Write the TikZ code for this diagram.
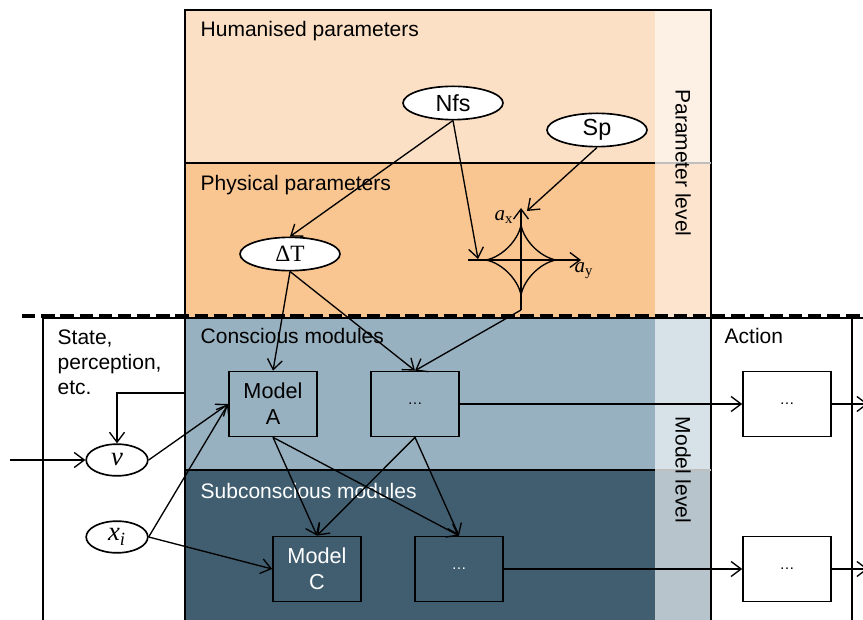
\documentclass[tikz,border=0pt]{standalone}
\usepackage{fontspec}
\setmainfont{Liberation Sans}
\newfontfamily\serifface{Liberation Serif}
\usetikzlibrary{arrows.meta,shapes.geometric}

\definecolor{humcol}{RGB}{252,224,197}
\definecolor{phycol}{RGB}{249,197,145}
\definecolor{humstrip}{RGB}{253,241,230}
\definecolor{phystrip}{RGB}{252,228,206}
\definecolor{concol}{RGB}{152,177,192}
\definecolor{constrip}{RGB}{214,226,232}
\definecolor{subcol}{RGB}{64,94,112}
\definecolor{substrip}{RGB}{183,196,203}

\begin{document}
\begin{tikzpicture}[x=0.6pt,y=-0.6pt,line width=0.8pt,
  font=\fontsize{12.6}{15}\selectfont,
  arr/.style={-{Straight Barb[length=6pt,width=9pt]}},
  oval/.style={draw,line width=1pt,ellipse,fill=white,inner sep=0pt,minimum width=60pt,minimum height=20pt,font=\fontsize{14}{15}\selectfont},
  smalloval/.style={oval,minimum width=37pt,minimum height=19pt},
  modbox/.style={draw,line width=1pt,minimum width=52.8pt,minimum height=39pt,align=center,inner sep=0pt,font=\fontsize{13}{15.5}\selectfont},
  lbl/.style={anchor=base west,inner sep=0pt,align=left}]
	\useasboundingbox (0,0) rectangle (863,620);
	% bands
	\fill [humcol](185,10)rectangle(655,163);
	\fill [phycol](185,163)rectangle(655,318);
	\fill [humstrip](655,10)rectangle(711,163);
	\fill [phystrip](655,163)rectangle(711,318);
	\fill [concol](185,318)rectangle(655,470);
	\fill [constrip](655,318)rectangle(711,470);
	\fill [subcol](185,470)rectangle(655,620);
	\fill [substrip](655,470)rectangle(711,620);
	% frame lines
	\draw (185,318)--(185,10)--(711,10)--(711,620);
	\draw (185,163)--(655,163);
	\draw [gray!50] (655,163)--(711,163);
	\draw (185,470)--(655,470);
	\draw [gray!50] (655,470)--(711,470);
	\draw (185,318)--(185,620);
	\draw (43,620)--(43,318)--(863,318);
	\draw (852,318)--(852,620);
	\draw [line width=2.4pt,dash pattern=on 8pt off 3.5pt] (22,316)--(863,316);
	% labels
	\node [lbl] at (200,37) {Humanised parameters};
	\node [lbl] at (200,191) {Physical parameters};
	\node [lbl] at (200,344) {Conscious modules};
	\node [lbl,text=white] at (200,498) {Subconscious modules};
	\node [lbl,anchor=north west] at (57,329) {State,\\perception,\\etc.};
	\node [lbl] at (724,344) {Action};
	\node [rotate=-90] at (683,163) {Parameter level};
	\node [rotate=-90] at (683,470) {Model level};
	% parameter nodes
	\node [oval] (nfs) at (453,103) {Nfs};
	\node [oval] (sp) at (597,130) {Sp};
	\node [oval,font=\serifface\fontsize{14}{16}\selectfont] (dT) at (290,254) {ΔT};
	% astroid
	\coordinate (ast) at (521,260);
	\coordinate (axL) at (468,260);
	\coordinate (axR) at (581,260);
	\coordinate (axB) at (521,310);
	\coordinate (axT) at (521,208);
	\coordinate (hitL) at (478,259);
	\coordinate (hitT) at (527,211);
	\draw [shift={(ast)}] plot[domain=0:360,samples=120,smooth] ({36*cos(\x)*cos(\x)*cos(\x)},{36*sin(\x)*sin(\x)*sin(\x)});
	\draw [arr] (axL)--(axR);
	\draw [arr] (axB)--(axT);
	\node (ax) at (504,217) {\serifface\itshape a\textsubscript{\upshape x}};
	\node (ay) at (584,271) {\serifface\itshape a\textsubscript{\upshape y}};
	% model nodes
	\node [modbox] (modelA) at (273,404) {Model\\A};
	\node [modbox] (dotsA) at (415,404) {\small\dots};
	\node [modbox,text=white] (modelC) at (317,569) {Model\\C};
	\node [modbox,text=white] (dotsC) at (459,569) {\small\dots};
	\node [modbox,fill=white] (actA) at (787,404) {\small\dots};
	\node [modbox,fill=white] (actC) at (787,569) {\small\dots};
	\node [smalloval,font=\serifface\itshape\fontsize{16}{16}\selectfont] (v) at (117,460) {v};
	\node [smalloval,font=\serifface\itshape\fontsize{16}{16}\selectfont] (xi) at (117,537) {x\textsubscript{i}};
	\coordinate (in) at (10,460);
	\coordinate (fb) at (185,393);
	\coordinate (outA) at (868,404);
	\coordinate (outC) at (868,569);
	% connectors
	\draw [arr] (nfs.south)--(dT.north);
	\draw [arr] (nfs.south)--(hitL);
	\draw [arr] (sp.south)--(hitT);
	\draw [arr] (dT.south)--(modelA.north);
	\draw [arr] (dT.south)--(dotsA.north);
	\draw [arr] (axB)--(dotsA.north);
	\draw [arr] (in)--(v.west);
	\draw [arr] (fb)-|(v.north);
	\draw [arr] (v.east)--(modelA.west);
	\draw [arr] (xi.east)--(modelA.west);
	\draw [arr] (xi.east)--(modelC.west);
	\draw [arr] (modelA.south)--(modelC.north);
	\draw [arr] (modelA.south)--(dotsC.north);
	\draw [arr] (dotsA.south)--(modelC.north);
	\draw [arr] (dotsA.south)--(dotsC.north);
	\draw [arr] (dotsA.east)--(actA.west);
	\draw [arr] (dotsC.east)--(actC.west);
	\draw [arr] (actA.east)--(outA);
	\draw [arr] (actC.east)--(outC);
\end{tikzpicture}
\end{document}
